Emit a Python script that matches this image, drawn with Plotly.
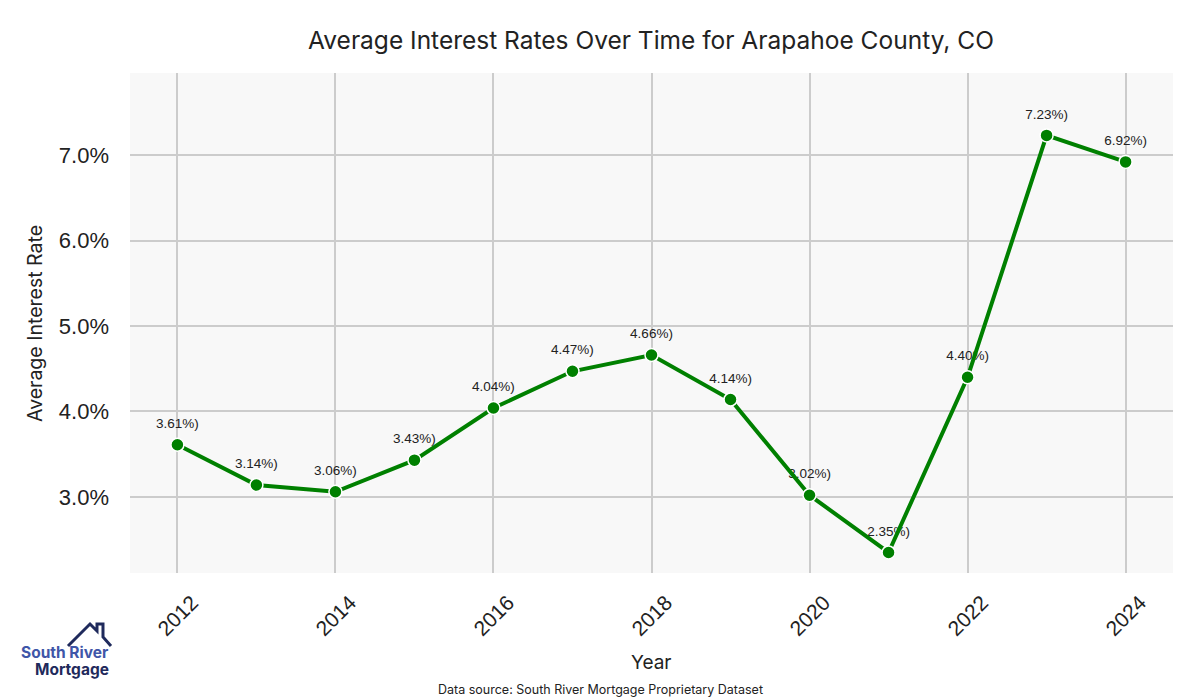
import plotly.graph_objects as go

years = [2012, 2013, 2014, 2015, 2016, 2017, 2018, 2019, 2020, 2021, 2022, 2023, 2024]
rates = [3.61, 3.14, 3.06, 3.43, 4.04, 4.47, 4.66, 4.14, 3.02, 2.35, 4.40, 7.23, 6.92]
labels = [f"{r:.2f}%)" for r in rates]
x_ticks = [2012, 2014, 2016, 2018, 2020, 2022, 2024]
y_ticks = [3.0, 4.0, 5.0, 6.0, 7.0]
y_tick_text = [f"{v:.1f}%" for v in y_ticks]

# page body has an 8px margin, so lay out in screen pixels minus 8
OFF = 8
W, H = 1200 - OFF, 700 - OFF
L, T = 130 - OFF, 73 - OFF
R = W - (1173 - OFF)
B = H - (573 - OFF)
PW, PH = W - L - R, H - T - B


def px(x):
    return (x - OFF - L) / PW


def py(y):
    return (H - B - (y - OFF)) / PH


fig = go.Figure()
fig.add_trace(go.Scatter(
    x=years, y=rates, mode="markers+text", text=labels, textposition="top center",
    marker=dict(size=20, color="rgba(0,0,0,0)"),
    textfont=dict(family="Liberation Sans, Arial", size=13.5, color="#222222"),
    showlegend=False, hoverinfo="skip", cliponaxis=False,
))
fig.add_trace(go.Scatter(
    x=years, y=rates, mode="lines+markers",
    line=dict(color="#008000", width=4),
    marker=dict(size=13, color="#008000", line=dict(color="white", width=1.5)),
    showlegend=False,
))

# house logo path (screen pixel coords converted to paper)
pts = [(68, 646), (90, 624), (97, 631), (97, 624), (103, 624), (103, 637), (111, 646)]
path = "M " + " L ".join(f"{px(a):.5f},{py(b):.5f}" for a, b in pts)

font_main = "Inter, Lato, sans-serif"
font_tick = "Liberation Sans, Arial"

annotations = [
    dict(text="Year", x=px(651), y=py(662), xref="paper", yref="paper",
         xanchor="center", yanchor="middle", showarrow=False,
         font=dict(family=font_main, size=19, color="#222222")),
    dict(text="Average Interest Rate", x=px(35), y=py(324), xref="paper", yref="paper",
         xanchor="center", yanchor="middle", showarrow=False, textangle=-90,
         font=dict(family=font_main, size=19.5, color="#222222")),
    dict(text="Data source: South River Mortgage Proprietary Dataset", x=px(600), y=py(689),
         xref="paper", yref="paper", xanchor="center", yanchor="middle", showarrow=False,
         font=dict(family=font_main, size=12.5, color="#222222")),
    dict(text="<b>South River</b>", x=px(111), y=py(652), xref="paper", yref="paper",
         xanchor="right", yanchor="middle", showarrow=False,
         font=dict(family=font_main, size=15.5, color="#3f56a8")),
    dict(text="<b>Mortgage</b>", x=px(111), y=py(669), xref="paper", yref="paper",
         xanchor="right", yanchor="middle", showarrow=False,
         font=dict(family=font_main, size=15.5, color="#1f2a5c")),
]
# x tick labels rotated about their centre (centred on each tick)
for t in x_ticks:
    annotations.append(dict(text=str(t), x=t, xref="x", y=py(615), yref="paper",
                            xanchor="center", yanchor="middle", showarrow=False,
                            textangle=-45,
                            font=dict(family=font_tick, size=21, color="#222222")))

fig.update_layout(
    width=W, height=H,
    margin=dict(l=L, r=R, t=T, b=B),
    paper_bgcolor="white",
    plot_bgcolor="#f8f8f8",
    title=dict(text="Average Interest Rates Over Time for Arapahoe County, CO",
               x=px(651), xref="paper", xanchor="center",
               y=1 - (40 - OFF) / H, yanchor="middle",
               font=dict(family=font_main, size=24.5, color="#222222")),
    xaxis=dict(range=[2011.4, 2024.6], tickvals=x_ticks, showticklabels=False,
               showgrid=True, gridcolor="#cccccc", gridwidth=2,
               zeroline=False, showline=False, ticks=""),
    yaxis=dict(range=[2.11, 7.96], tickvals=y_ticks, ticktext=y_tick_text,
               showgrid=True, gridcolor="#cccccc", gridwidth=2,
               zeroline=False, showline=False, ticks="", ticklabelstandoff=20,
               tickfont=dict(family=font_tick, size=22, color="#222222")),
    shapes=[dict(type="path", path=path, xref="paper", yref="paper",
                 line=dict(color="#1f2a5c", width=3))],
    annotations=annotations,
)

fig.write_html("out.html")
